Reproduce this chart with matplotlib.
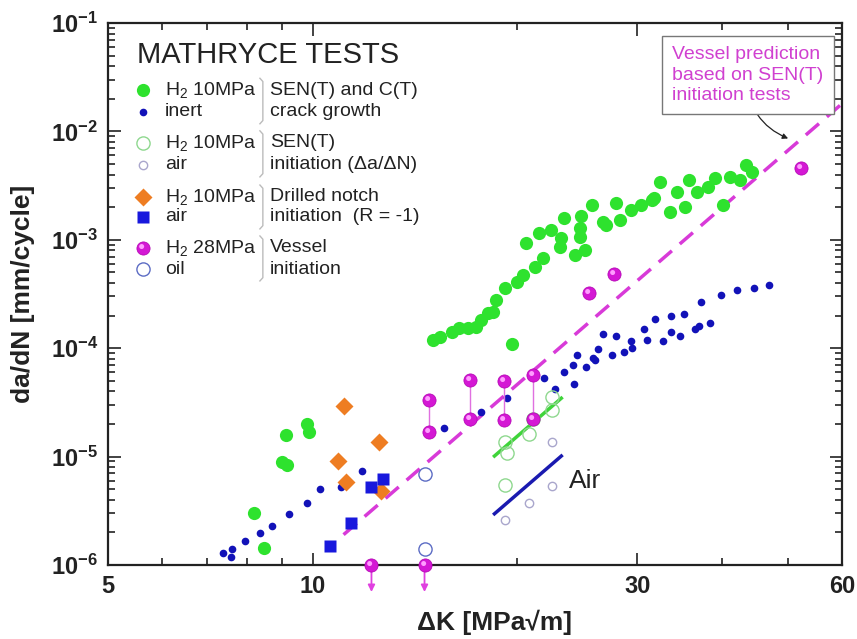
import matplotlib
matplotlib.use("Agg")
import matplotlib.pyplot as plt
from matplotlib.path import Path
from matplotlib.ticker import LogLocator, NullFormatter

plt.rcParams["font.family"] = ["Liberation Sans", "DejaVu Sans"]
plt.rcParams["mathtext.fontset"] = "custom"
plt.rcParams["mathtext.rm"] = "Liberation Sans"
plt.rcParams["mathtext.it"] = "Liberation Sans:italic"
plt.rcParams["mathtext.bf"] = "Liberation Sans:bold"

# --- H2 10 MPa, SEN(T)/C(T) crack growth (filled green) ---
h2_dk = [15.0, 15.4, 16.0, 16.4, 16.9, 17.4, 17.7, 18.1, 18.4, 18.6, 19.2, 20.0, 20.4,
         21.2, 21.8, 20.6, 21.5, 22.4, 23.2, 23.1, 23.4, 24.3, 25.1, 24.8, 24.7, 24.7,
         25.7, 26.7, 27.0, 28.3, 27.9, 29.4, 30.4, 31.5, 31.8, 32.4, 33.5, 34.3, 35.3,
         35.8, 36.7, 38.1, 39.0, 40.1, 41.0, 42.5, 43.4, 44.2, 19.6,
         9.12, 9.81, 9.87, 9.02, 9.17, 8.19, 8.47]
h2_dadn = [1.19e-4, 1.27e-4, 1.42e-4, 1.52e-4, 1.52e-4, 1.58e-4, 1.82e-4, 2.09e-4, 2.17e-4,
           2.77e-4, 3.57e-4, 4.11e-4, 4.73e-4, 5.64e-4, 6.75e-4, 9.27e-4, 1.15e-3, 1.23e-3,
           1.03e-3, 8.64e-4, 1.58e-3, 7.25e-4, 8.05e-4, 1.64e-3, 1.07e-3, 1.28e-3, 2.09e-3,
           1.47e-3, 1.37e-3, 1.53e-3, 2.17e-3, 1.89e-3, 2.09e-3, 2.33e-3, 2.42e-3, 3.44e-3,
           1.82e-3, 2.77e-3, 2.02e-3, 3.57e-3, 2.77e-3, 3.09e-3, 3.69e-3, 2.09e-3, 3.81e-3,
           3.57e-3, 4.9e-3, 4.25e-3, 1.09e-4,
           1.57e-5, 2.0e-5, 1.68e-5, 8.9e-6, 8.3e-6, 3.0e-6, 1.42e-6]

# --- inert crack growth (small navy dots) ---
inert_dk = [7.38, 7.61, 7.58, 7.94, 8.36, 8.70, 9.22, 9.81, 10.24, 11.0, 11.8, 15.6, 17.7,
            19.3, 21.9, 22.7, 23.4, 24.1, 24.2, 24.5, 25.2, 25.8, 26.0, 26.3, 26.7, 27.5,
            27.9, 28.7, 29.4, 29.5, 30.7, 31.0, 31.9, 32.7, 33.6, 33.6, 34.7, 35.2, 36.5,
            37.0, 37.2, 38.4, 39.8, 42.1, 44.5, 46.9]
inert_dadn = [1.28e-6, 1.39e-6, 1.17e-6, 1.66e-6, 1.98e-6, 2.3e-6, 2.94e-6, 3.7e-6, 4.97e-6,
              5.26e-6, 7.4e-6, 1.85e-5, 2.55e-5, 3.5e-5, 5.35e-5, 4.17e-5, 6.03e-5, 6.93e-5,
              4.64e-5, 8.6e-5, 6.7e-5, 8.1e-5, 7.7e-5, 9.9e-5, 1.34e-4, 8.6e-5, 1.29e-4,
              9.2e-5, 1.16e-4, 1.01e-4, 1.49e-4, 1.19e-4, 1.84e-4, 1.17e-4, 1.98e-4, 1.42e-4,
              1.29e-4, 2.06e-4, 1.49e-4, 1.60e-4, 2.67e-4, 1.71e-4, 3.08e-4, 3.47e-4,
              3.62e-4, 3.8e-4]

# --- SEN(T) initiation ---
sent_h2_dk = [22.5, 22.5, 21.1, 20.8, 19.2, 19.3, 19.2]
sent_h2_dadn = [3.55e-5, 2.67e-5, 2.2e-5, 1.63e-5, 1.37e-5, 1.08e-5, 5.45e-6]
sent_air_dk = [22.5, 22.5, 20.8, 19.2]
sent_air_dadn = [1.37e-5, 5.37e-6, 3.7e-6, 2.6e-6]
fit_dk = [18.5, 23.2]
fit_h2 = [1.01e-5, 3.45e-5]
fit_air = [2.96e-6, 1.01e-5]

# --- drilled notch initiation (R = -1) ---
notch_h2_dk = [11.1, 12.5, 10.9, 11.2, 12.6]
notch_h2_dadn = [2.9e-5, 1.37e-5, 9.1e-6, 5.85e-6, 4.8e-6]
notch_air_dk = [12.7, 12.2, 11.4, 10.6]
notch_air_dadn = [6.15e-6, 5.27e-6, 2.46e-6, 1.5e-6]

# --- vessel initiation ---
vessel_pair_dk = [14.8, 17.05, 19.1, 21.1]
vessel_pair_hi = [3.3e-5, 5.05e-5, 4.98e-5, 5.6e-5]
vessel_pair_lo = [1.68e-5, 2.24e-5, 2.17e-5, 2.2e-5]
vessel_dk = [25.5, 27.7, 52.2]
vessel_dadn = [3.25e-4, 4.83e-4, 4.55e-3]
vessel_runout_dk = [12.2, 14.6]
oil_dk = [14.6, 14.6]
oil_dadn = [6.95e-6, 1.39e-6]

# --- vessel prediction line ---
pred_dk = [11.1, 60.0]
pred_dadn = [1.9e-6, 1.8e-2]

GREEN = "#2ee22e"
NAVY = "#1212b8"
PINK = "#d418d4"
ORANGE = "#ee7d22"
BLUE = "#1818dd"

fig = plt.figure(figsize=(8.57, 6.39), dpi=100)
ax = fig.add_axes([0.126, 0.116, 0.8565, 0.848])
ax.set_xscale("log")
ax.set_yscale("log")
ax.set_xlim(5, 60)
ax.set_ylim(1e-6, 1e-1)

# highlight marker for the shaded magenta balls
hl_path = Path.make_compound_path(
    Path([(-1, -1)], [Path.MOVETO]),
    Path([(1, 1)], [Path.MOVETO]),
    Path.circle((-0.28, 0.3), 0.38),
)


def sphere(x, y, ms=9.5, **kw):
    ax.plot(x, y, ls="none", marker="o", ms=ms, mfc=PINK, mec="#b000b0",
            mew=0.5, zorder=6, clip_on=False, **kw)
    ax.plot(x, y, ls="none", marker=hl_path, ms=ms, mfc="#ff9dff", mec="none",
            zorder=7, clip_on=False, **kw)


# prediction line
ax.plot(pred_dk, pred_dadn, ls=(0, (5, 3)), color="#d83ad8", lw=2.5, zorder=3)

# crack growth
ax.plot(h2_dk, h2_dadn, ls="none", marker="o", ms=9.5, color=GREEN, mec="none", zorder=4)
ax.plot(inert_dk, inert_dadn, ls="none", marker="o", ms=5.5, color=NAVY, mec="none", zorder=4)

# SEN(T) initiation
ax.plot(fit_dk, fit_h2, color="#3fd43a", lw=2.5, zorder=4)
ax.plot(fit_dk, fit_air, color="#1a1ab0", lw=2.5, zorder=4)
ax.plot(sent_h2_dk, sent_h2_dadn, ls="none", marker="o", ms=9.5, mfc="none",
        mec="#8fd88f", mew=1.0, zorder=5)
ax.plot(sent_air_dk, sent_air_dadn, ls="none", marker="o", ms=6, mfc="none",
        mec="#a9a6cc", mew=1.0, zorder=5)
ax.text(23.8, 5.96e-6, "Air", fontsize=19, color="#222222", va="center", ha="left")

# drilled notch
ax.plot(notch_h2_dk, notch_h2_dadn, ls="none", marker="D", ms=9, color=ORANGE, mec="none", zorder=5)
ax.plot(notch_air_dk, notch_air_dadn, ls="none", marker="s", ms=9, color=BLUE, mec="none", zorder=5)

# vessel
ax.vlines(vessel_pair_dk, vessel_pair_lo, vessel_pair_hi, color="#e070e0", lw=1.0, zorder=5)
sphere(vessel_pair_dk, vessel_pair_hi)
sphere(vessel_pair_dk, vessel_pair_lo)
sphere(vessel_dk, vessel_dadn)
sphere(vessel_runout_dk, [1e-6] * len(vessel_runout_dk))
for x in vessel_runout_dk:
    ax.annotate("", xy=(x, -0.05), xycoords=("data", "axes fraction"),
                xytext=(x, 1e-6), textcoords="data", annotation_clip=False,
                arrowprops=dict(arrowstyle="-|>", color="#e040e0", lw=1.3,
                                mutation_scale=10, shrinkA=0, shrinkB=0))
ax.plot(oil_dk, oil_dadn, ls="none", marker="o", ms=9.5, mfc="none",
        mec="#5c6cc4", mew=1.0, zorder=5)

# prediction note
ax.annotate("Vessel prediction\nbased on SEN(T)\ninitiation tests",
            xy=(50.0, 8.6e-3), xycoords="data",
            xytext=(0.872, 0.904), textcoords="axes fraction",
            ha="center", va="center", multialignment="left",
            fontsize=14, color="#d040d0", linespacing=1.25,
            bbox=dict(boxstyle="square,pad=0.55", fc="white", ec="#777777", lw=1.0),
            arrowprops=dict(arrowstyle="-|>", color="#222222", lw=0.9,
                            mutation_scale=8, connectionstyle="arc3,rad=0.35",
                            shrinkA=0, shrinkB=0))

# in-plot legend
ax.text(0.0395, 0.941, "MATHRYCE TESTS", transform=ax.transAxes, fontsize=21,
        color="#222222", va="center", ha="left")
x_mark, x_text, x_brace, x_desc = 0.048, 0.078, 0.211, 0.221
rows = [(0.876, 0.836), (0.779, 0.738), (0.679, 0.642), (0.585, 0.546)]
left_labels = [("H$_2$ 10MPa", "inert"), ("H$_2$ 10MPa", "air"),
               ("H$_2$ 10MPa", "air"), ("H$_2$ 28MPa", "oil")]
desc_labels = [("SEN(T) and C(T)", "crack growth"),
               ("SEN(T)", "initiation (\u0394a/\u0394N)"),
               ("Drilled notch", "initiation  (R = -1)"),
               ("Vessel", "initiation")]
tr = ax.transAxes
ax.plot(x_mark, rows[0][0], marker="o", ms=9.5, color=GREEN, mec="none", transform=tr)
ax.plot(x_mark, rows[0][1], marker="o", ms=5.5, color=NAVY, mec="none", transform=tr)
ax.plot(x_mark, rows[1][0], marker="o", ms=9.5, mfc="none", mec="#8fd88f", transform=tr)
ax.plot(x_mark, rows[1][1], marker="o", ms=6, mfc="none", mec="#a9a6cc", transform=tr)
ax.plot(x_mark, rows[2][0], marker="D", ms=9, color=ORANGE, mec="none", transform=tr)
ax.plot(x_mark, rows[2][1], marker="s", ms=9, color=BLUE, mec="none", transform=tr)
sphere([x_mark], [rows[3][0]], transform=tr)
ax.plot(x_mark, rows[3][1], marker="o", ms=9.5, mfc="none", mec="#5c6cc4", transform=tr)
for (y1, y2), (l1, l2), (d1, d2) in zip(rows, left_labels, desc_labels):
    ax.text(x_text, y1, l1, transform=tr, fontsize=14, color="#222222", va="center")
    ax.text(x_text, y2, l2, transform=tr, fontsize=14, color="#222222", va="center")
    ax.text(x_desc, y1, d1, transform=tr, fontsize=14, color="#222222", va="center")
    ax.text(x_desc, y2, d2, transform=tr, fontsize=14, color="#222222", va="center")
    ax.plot([x_brace - 0.004, x_brace, x_brace, x_brace - 0.004],
            [y1 + 0.022, y1 + 0.016, y2 - 0.016, y2 - 0.022],
            color="#bbbbbb", lw=1.0, transform=tr)

# axes styling
ax.set_xticks([5, 10, 30, 60])
ax.set_xticklabels(["5", "10", "30", "60"], fontsize=17, fontweight="bold")
ax.set_xticks([6, 7, 8, 9, 20, 40, 50], minor=True)
ax.xaxis.set_minor_formatter(NullFormatter())
yt = [1e-6, 1e-5, 1e-4, 1e-3, 1e-2, 1e-1]
ax.set_yticks(yt)
ax.set_yticklabels([r"$\mathbf{10^{-%d}}$" % k for k in [6, 5, 4, 3, 2, 1]], fontsize=17)
ax.yaxis.set_minor_locator(LogLocator(base=10, subs=range(2, 10)))
ax.yaxis.set_minor_formatter(NullFormatter())
ax.tick_params(which="both", direction="in", top=True, right=True, width=1.2, colors="#222222")
ax.tick_params(which="major", length=9, pad=7)
ax.tick_params(which="minor", length=5)
for sp in ax.spines.values():
    sp.set_linewidth(1.6)
    sp.set_color("#222222")

ax.set_xlabel("\u0394K [MPa\u221am]", fontsize=19, fontweight="bold", color="#222222")
ax.xaxis.set_label_coords(0.527, -0.082)
ax.set_ylabel("da/dN [mm/cycle]", fontsize=19, fontweight="bold", color="#222222")
ax.yaxis.set_label_coords(-0.099, 0.5)

fig.savefig("out.png", dpi=100)
